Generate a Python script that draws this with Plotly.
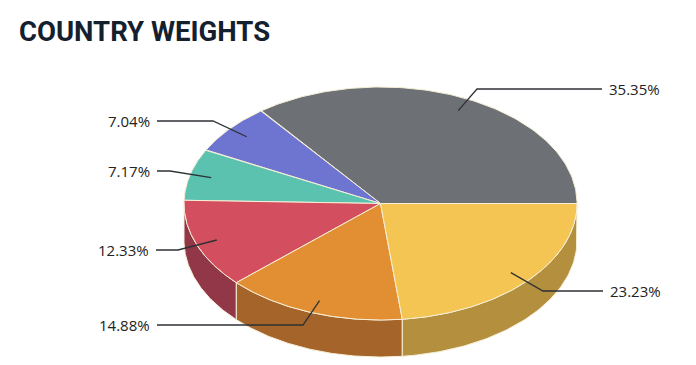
import numpy as np
import plotly.graph_objects as go

# ---- data ----
labels = ["35.35%", "7.04%", "7.17%", "12.33%", "14.88%", "23.23%"]
values = [35.35, 7.04, 7.17, 12.33, 14.88, 23.23]
top_colors = ["#6d7074", "#6d75d0", "#5bc2b0", "#d34e5f", "#e28e33", "#f4c553"]
side_colors = ["#4f5154", "#4e5596", "#3f8c80", "#923748", "#a4642a", "#b38f3e"]

# ---- geometry (layout) ----
W, H = 696, 365
OFF = 8  # page body margin
cx, cy, rx, ry, depth = 380.5, 203.5, 196.5, 116.5, 37
edge = "#f6efd6"

def pt(theta, r=1.0, dz=0.0):
    return cx + r * rx * np.cos(theta), cy - r * ry * np.sin(theta) + dz

total = sum(values)
bounds = np.concatenate([[0], np.cumsum(values)]) / total * 2 * np.pi

fig = go.Figure()

# side walls (front half only: theta in [pi, 2pi])
for i in range(len(values)):
    a, b = max(bounds[i], np.pi), min(bounds[i + 1], 2 * np.pi)
    if b <= a:
        continue
    t = np.linspace(a, b, 80)
    xt, yt = pt(t)
    xb, yb = pt(t[::-1], dz=depth)
    xs = np.concatenate([xt, xb, xt[:1]])
    ys = np.concatenate([yt, yb, yt[:1]])
    fig.add_trace(go.Scatter(x=xs, y=ys, mode="lines", fill="toself",
                             fillcolor=side_colors[i],
                             line=dict(color=edge, width=1),
                             hoverinfo="skip", showlegend=False))

# top faces
for i in range(len(values)):
    t = np.linspace(bounds[i], bounds[i + 1], 120)
    xt, yt = pt(t)
    xs = np.concatenate([[cx], xt, [cx]])
    ys = np.concatenate([[cy], yt, [cy]])
    fig.add_trace(go.Scatter(x=xs, y=ys, mode="lines", fill="toself",
                             fillcolor=top_colors[i],
                             line=dict(color=edge, width=1),
                             hoverinfo="skip", showlegend=False))

# leader lines + labels
elbows = [(477, 89, 602, 89), (213, 121, 157, 121), (170, 171, 157, 171),
          (178, 250, 156, 250), (303, 325, 157, 325), (543, 291, 603, 291)]
line_col = "#2e3136"
for i in range(len(values)):
    mid = (bounds[i] + bounds[i + 1]) / 2
    x0, y0 = pt(mid, r=0.89)
    ex, ey, lx, ly = elbows[i]
    fig.add_trace(go.Scatter(x=[x0, ex, lx], y=[y0, ey, ly], mode="lines",
                             line=dict(color=line_col, width=1.3),
                             hoverinfo="skip", showlegend=False))
    right_side = lx > cx
    fig.add_annotation(x=lx + (5 if right_side else -5), y=ly, text=labels[i],
                       showarrow=False, xanchor="left" if right_side else "right",
                       yanchor="middle",
                       font=dict(family="Open Sans", size=15, color="#222222"))

fig.add_annotation(x=17, y=31, text="<b>COUNTRY WEIGHTS</b>", showarrow=False,
                   xanchor="left", yanchor="middle",
                   font=dict(family="Roboto", size=27.5, color="#14202e"))

fig.update_layout(
    width=W, height=H, margin=dict(l=0, r=0, t=0, b=0),
    paper_bgcolor="white", plot_bgcolor="white",
    xaxis=dict(range=[OFF, W + OFF], visible=False, fixedrange=True),
    yaxis=dict(range=[H + OFF, OFF], visible=False, fixedrange=True),
)
fig.write_html("out.html")
